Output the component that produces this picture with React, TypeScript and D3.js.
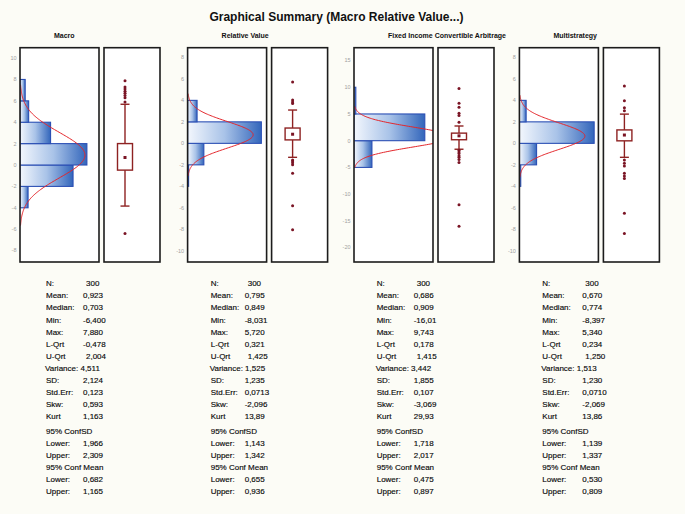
import React from "react";
import * as d3 from "d3";

// ---------- data ----------
const panelNames = ["Macro", "Relative Value", "Fixed Income Convertible Arbitrage", "Multistrategy"];
const binWidths = [2, 2, 5, 2];

const macroBinStarts = [-8, -6, -4, -2, 0, 2, 4, 6];
const macroCounts = [1, 0, 14, 92, 116, 53, 15, 9];
const relativeValueBinStarts = [-10, -8, -6, -4, -2, 0, 2, 4];
const relativeValueCounts = [1, 0, 1, 3, 48, 218, 28, 1];
const ficaBinStarts = [-20, -15, -10, -5, 0, 5];
const ficaCounts = [1, 1, 0, 59, 233, 6];
const multiBinStarts = [-10, -8, -6, -4, -2, 0, 2, 4];
const multiCounts = [1, 1, 0, 4, 51, 222, 20, 1];

const means = [0.923, 0.795, 0.686, 0.67];
const sds = [2.124, 1.235, 1.855, 1.23];
const medians = [0.703, 0.849, 0.909, 0.774];
const lowerQuartiles = [-0.478, 0.321, 0.178, 0.234];
const upperQuartiles = [2.004, 1.425, 1.415, 1.25];
const whiskerLows = [-3.84, -1.3, -1.6, -1.3];
const whiskerHighs = [5.68, 3.1, 2.75, 2.72];

const macroOutliers = [7.88, 7.3, 7.1, 6.9, 6.7, 6.5, 6.3, 5.9, -6.4];
const relativeValueOutliers = [5.72, 4.03, 3.85, 3.7, -1.55, -1.65, -1.8, -2.0, -2.79, -5.8, -8.031];
const ficaOutliers = [9.743, 7.0, 6.25, 5.12, 4.7, 3.44, -1.8, -2.1, -2.4, -2.8, -3.1, -3.5, -4.1, -12.0, -16.01];
const multiOutliers = [5.34, 3.97, 3.31, 3.03, -1.55, -1.86, -2.1, -2.79, -3.04, -3.26, -6.5, -8.397];

const macroTicks = [10, 8, 6, 4, 2, 0, -2, -4, -6, -8];
const relativeValueTicks = [8, 6, 4, 2, 0, -2, -4, -6, -8, -10];
const ficaTicks = [15, 10, 5, 0, -5, -10, -15, -20];
const multiTicks = [8, 6, 4, 2, 0, -2, -4, -6, -8, -10];

const statLabels = [
  "N:", "Mean:", "Median:", "Min:", "Max:", "L-Qrt", "U-Qrt", "Variance:", "SD:",
  "Std.Err:", "Skw:", "Kurt", "95% ConfSD", "Lower:", "Upper:", "95% Conf Mean", "Lower:", "Upper:",
];
const macroStats = ["300", "0,923", "0,703", "-6,400", "7,880", "-0,478", "2,004", "4,511", "2,124", "0,123", "0,593", "1,163", "", "1,966", "2,309", "", "0,682", "1,165"];
const relativeValueStats = ["300", "0,795", "0,849", "-8,031", "5,720", "0,321", "1,425", "1,525", "1,235", "0,0713", "-2,096", "13,89", "", "1,143", "1,342", "", "0,655", "0,936"];
const ficaStats = ["300", "0,686", "0,909", "-16,01", "9,743", "0,178", "1,415", "3,442", "1,855", "0,107", "-3,069", "29,93", "", "1,718", "2,017", "", "0,475", "0,897"];
const multiStats = ["300", "0,670", "0,774", "-8,397", "5,340", "0,234", "1,250", "1,513", "1,230", "0,0710", "-2,069", "13,86", "", "1,139", "1,337", "", "0,530", "0,809"];

const chartTitle = "Graphical Summary (Macro Relative Value...)";

// ---------- layout ----------
const W = 685;
const H = 514;
const frameTop = 47.7;
const frameBottom = 262;
const histLefts = [20, 187.6, 354, 519.4];
const histWidth = 79;
const boxFrameOffset = 84;
const boxFrameWidth = 56;
const yDomains: [number, number][] = [[-9.07, 10.97], [-11.04, 8.9], [-22.7, 17.4], [-11.04, 8.9]];
const countMax = [137, 233.5, 260, 234.6];
const statLabelX = [46, 210.7, 376.7, 542.3];
const statValueOffset = [37, 34, 37, 40];

const binStartsList = [macroBinStarts, relativeValueBinStarts, ficaBinStarts, multiBinStarts];
const countsList = [macroCounts, relativeValueCounts, ficaCounts, multiCounts];
const outliersList = [macroOutliers, relativeValueOutliers, ficaOutliers, multiOutliers];
const ticksList = [macroTicks, relativeValueTicks, ficaTicks, multiTicks];
const statsList = [macroStats, relativeValueStats, ficaStats, multiStats];

const FONT = "'Liberation Sans', Arial, Helvetica, sans-serif";
const BOX_COLOR = "#8e2222";
const DOT_COLOR = "#7a1424";
const FRAME_COLOR = "#1c1c1c";

function rowY(i: number) {
  return 283.3 + i * 12.1 + (i >= 12 ? 2.4 : 0);
}

function Panel({ idx }: { idx: number }) {
  const left = histLefts[idx];
  const y = d3.scaleLinear().domain(yDomains[idx]).range([frameBottom, frameTop]);
  const x = d3.scaleLinear().domain([0, countMax[idx]]).range([left, left + histWidth]);
  const bw = binWidths[idx];
  const starts = binStartsList[idx];
  const counts = countsList[idx];
  const mean = means[idx];
  const sd = sds[idx];
  const n = 300;
  const pdf = (v: number) => (n * bw) / (sd * Math.sqrt(2 * Math.PI)) * Math.exp(-0.5 * ((v - mean) / sd) ** 2);
  const samples = d3.range(0, 161).map((k) => mean - 3.1 * sd + (k / 160) * 6.2 * sd);
  const curve = d3
    .line<number>()
    .x((v) => x(pdf(v)))
    .y((v) => y(v))
    .curve(d3.curveBasis)(samples);

  const boxLeft = left + boxFrameOffset;
  const cx = boxLeft + 21;
  const boxHalf = 7.5;
  const capHalf = 4.5;
  const clipId = `clip${idx}`;
  const stats = statsList[idx];
  const lx = statLabelX[idx];
  const vx = lx + statValueOffset[idx];

  return (
    <g>
      <defs>
        <clipPath id={clipId}>
          <rect x={left} y={frameTop} width={histWidth} height={frameBottom - frameTop} />
        </clipPath>
      </defs>
      <text x={left + 34} y={37.5} fontSize={7} fontWeight="bold" fill="#111">
        {panelNames[idx]}
      </text>
      {ticksList[idx].map((t) => (
        <text key={t} x={left - 3.5} y={y(t)} dy="0.35em" textAnchor="end" fontSize={5.5} fill="#a0a0a0">
          {t}
        </text>
      ))}
      <rect x={left} y={frameTop} width={histWidth} height={frameBottom - frameTop} fill="#ffffff" />
      <g clipPath={`url(#${clipId})`}>
        {starts.map((s, i) => {
          const wpx = x(counts[i]) - x(0);
          return wpx >= 1 ? (
            <rect
              key={s}
              x={x(0)}
              y={y(s + bw)}
              width={wpx}
              height={y(s) - y(s + bw)}
              fill="url(#barGrad)"
              stroke="#2b4fb4"
              strokeWidth={1.1}
            />
          ) : null;
        })}
        <path d={curve || ""} fill="none" stroke="#e3262b" strokeWidth={1} />
      </g>
      <rect x={left} y={frameTop} width={histWidth} height={frameBottom - frameTop} fill="none" stroke={FRAME_COLOR} strokeWidth={1.6} />

      <rect x={boxLeft} y={frameTop} width={boxFrameWidth} height={frameBottom - frameTop} fill="#ffffff" stroke={FRAME_COLOR} strokeWidth={1.6} />
      {/* whiskers */}
      <line x1={cx} x2={cx} y1={y(upperQuartiles[idx])} y2={y(whiskerHighs[idx])} stroke={BOX_COLOR} strokeWidth={1.4} />
      <line x1={cx} x2={cx} y1={y(lowerQuartiles[idx])} y2={y(whiskerLows[idx])} stroke={BOX_COLOR} strokeWidth={1.4} />
      <line x1={cx - capHalf} x2={cx + capHalf} y1={y(whiskerHighs[idx])} y2={y(whiskerHighs[idx])} stroke={BOX_COLOR} strokeWidth={1.4} />
      <line x1={cx - capHalf} x2={cx + capHalf} y1={y(whiskerLows[idx])} y2={y(whiskerLows[idx])} stroke={BOX_COLOR} strokeWidth={1.4} />
      <rect
        x={cx - boxHalf}
        y={y(upperQuartiles[idx])}
        width={boxHalf * 2}
        height={y(lowerQuartiles[idx]) - y(upperQuartiles[idx])}
        fill="#ffffff"
        stroke={BOX_COLOR}
        strokeWidth={1.4}
      />
      <rect x={cx - 1.5} y={y(medians[idx]) - 1.5} width={3} height={3} fill={DOT_COLOR} />
      {outliersList[idx].map((o, i) => (
        <circle key={i} cx={cx} cy={y(o)} r={1.5} fill={DOT_COLOR} />
      ))}

      {/* statistics */}
      {statLabels.map((lab, i) => {
        const yy = rowY(i) + 2.9;
        if (lab === "Variance:") {
          return (
            <text key={i} x={lx - 1} y={yy} fontSize={8} fill="#0a0a0a" stroke="#0a0a0a" strokeWidth={0.15}>
              {`${lab} ${stats[i]}`}
            </text>
          );
        }
        const dx = i === 0 ? 3 : i === 6 ? 3 : 0;
        return (
          <g key={i} fill="#0a0a0a" stroke="#0a0a0a" strokeWidth={0.15}>
            <text x={lx} y={yy} fontSize={8}>
              {lab}
            </text>
            {stats[i] ? (
              <text x={vx + dx} y={yy} fontSize={8}>
                {stats[i]}
              </text>
            ) : null}
          </g>
        );
      })}
    </g>
  );
}

export default function App() {
  return (
    <div style={{ position: "absolute", left: 0, top: 0, width: W, height: H }}>
      <svg width={W} height={H} fontFamily={FONT} style={{ display: "block", background: "#fcfcf6" }}>
        <defs>
          <linearGradient id="barGrad" x1="0" x2="1" y1="0" y2="0">
            <stop offset="0" stopColor="#f3f7fd" />
            <stop offset="0.5" stopColor="#a9c3e8" />
            <stop offset="1" stopColor="#3366bb" />
          </linearGradient>
        </defs>
        <rect x={0} y={0} width={W} height={H} fill="#fcfcf6" />
        <text x={336.5} y={21} textAnchor="middle" fontSize={12} fontWeight="bold" fill="#111">
          {chartTitle}
        </text>
        {panelNames.map((_, i) => (
          <Panel key={i} idx={i} />
        ))}
      </svg>
    </div>
  );
}
